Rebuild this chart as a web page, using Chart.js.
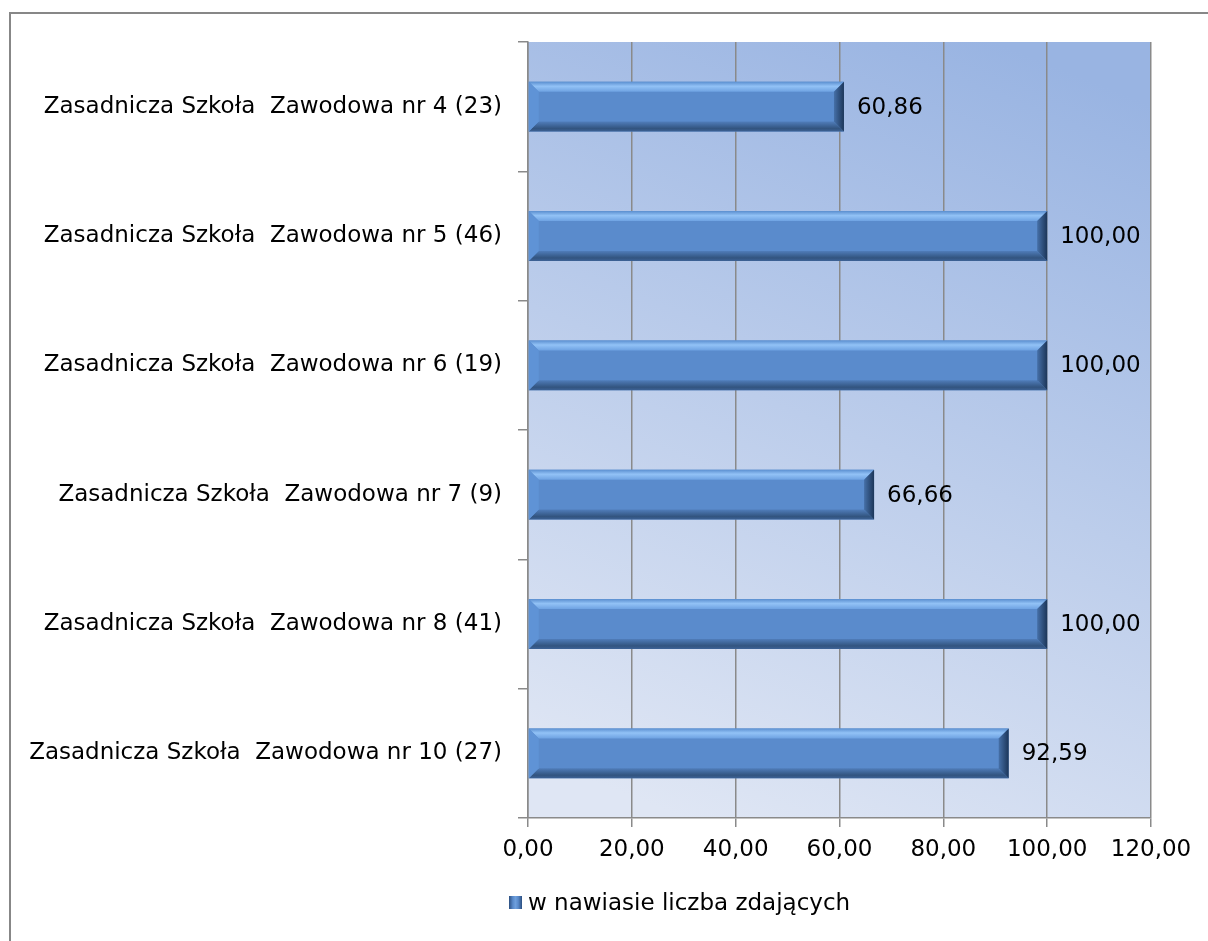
<!DOCTYPE html>
<html>
<head>
<meta charset="utf-8">
<script src="https://cdn.jsdelivr.net/npm/chart.js@4.4.1/dist/chart.umd.min.js"></script>
<style>
  body { margin: 0; background: #fff; }
  #wrap { position: relative; width: 1208px; height: 941px; overflow: hidden; }
  #frame { position: absolute; left: 9px; top: 12px; width: 1230px; height: 960px; border: 2px solid #878787; box-sizing: border-box; }
  #legend { position: absolute; left: 509px; top: 889px; font: 23px "DejaVu Sans", sans-serif; color: #000; display: flex; align-items: center; }
  #legend .box { flex: 0 0 13px; width: 13px; height: 13px; margin-right: 6px;
    background: linear-gradient(90deg, #2c4f80 0, #5a8bcc 30%, #6e9fdc 50%, #5a8bcc 70%, #2c4f80 100%); }
</style>
</head>
<body>
<div id="wrap">
  <canvas id="chart" width="1208" height="941"></canvas>
  <div id="frame"></div>
  <div id="legend"><span class="box"></span>w nawiasie liczba zdających</div>
</div>
<script>
// schools (number of candidates in brackets)
const schools = [
  "Zasadnicza Szkoła  Zawodowa nr 4 (23)",
  "Zasadnicza Szkoła  Zawodowa nr 5 (46)",
  "Zasadnicza Szkoła  Zawodowa nr 6 (19)",
  "Zasadnicza Szkoła  Zawodowa nr 7 (9)",
  "Zasadnicza Szkoła  Zawodowa nr 8 (41)",
  "Zasadnicza Szkoła  Zawodowa nr 10 (27)"
];
const passRates = [60.86, 100.00, 100.00, 66.66, 100.00, 92.59];
const xTicks = [0, 20, 40, 60, 80, 100, 120];

const FONT = "DejaVu Sans";
const fmt = v => v.toFixed(2).replace(".", ",");

// plot area background, dark at the top, light at the bottom
const bgPlugin = {
  id: "plotBg",
  beforeDraw(chart) {
    const { ctx, chartArea: a } = chart;
    const g = ctx.createLinearGradient(a.left + a.width * 0.75, a.top, a.left + a.width * 0.25, a.bottom);
    g.addColorStop(0, "#99b4e2");
    g.addColorStop(1, "#dfe6f4");
    ctx.save();
    ctx.fillStyle = g;
    ctx.fillRect(a.left, a.top, a.width, a.height);
    ctx.restore();
  }
};

// bevel edges on the bars + value labels
const bevelPlugin = {
  id: "bevel",
  afterDatasetsDraw(chart) {
    const ctx = chart.ctx;
    const meta = chart.getDatasetMeta(0);
    meta.data.forEach((bar, i) => {
      const x0 = bar.base, x1 = bar.x;
      const y0 = bar.y - bar.height / 2, y1 = bar.y + bar.height / 2;
      const b = 10;
      ctx.save();
      // top
      let g = ctx.createLinearGradient(0, y0, 0, y0 + b);
      g.addColorStop(0, "#5b8fd0");
      g.addColorStop(0.45, "#92c2f6");
      g.addColorStop(1, "#6ea2e2");
      ctx.fillStyle = g;
      ctx.beginPath();
      ctx.moveTo(x0, y0); ctx.lineTo(x1, y0); ctx.lineTo(x1 - b, y0 + b); ctx.lineTo(x0 + b, y0 + b);
      ctx.closePath(); ctx.fill();
      // bottom
      g = ctx.createLinearGradient(0, y1 - b, 0, y1);
      g.addColorStop(0, "#507dba");
      g.addColorStop(0.7, "#32547f");
      g.addColorStop(1, "#3d6296");
      ctx.fillStyle = g;
      ctx.beginPath();
      ctx.moveTo(x0, y1); ctx.lineTo(x1, y1); ctx.lineTo(x1 - b, y1 - b); ctx.lineTo(x0 + b, y1 - b);
      ctx.closePath(); ctx.fill();
      // left
      ctx.fillStyle = "#5f93d6";
      ctx.beginPath();
      ctx.moveTo(x0, y0); ctx.lineTo(x0 + b, y0 + b); ctx.lineTo(x0 + b, y1 - b); ctx.lineTo(x0, y1);
      ctx.closePath(); ctx.fill();
      // right
      g = ctx.createLinearGradient(x1 - b, 0, x1, 0);
      g.addColorStop(0, "#4670a8");
      g.addColorStop(1, "#1c3659");
      ctx.fillStyle = g;
      ctx.beginPath();
      ctx.moveTo(x1, y0); ctx.lineTo(x1 - b, y0 + b); ctx.lineTo(x1 - b, y1 - b); ctx.lineTo(x1, y1);
      ctx.closePath(); ctx.fill();
      // value label
      ctx.fillStyle = "#000";
      ctx.font = "23px '" + FONT + "'";
      ctx.textAlign = "left";
      ctx.textBaseline = "middle";
      ctx.fillText(fmt(passRates[i]), x1 + 13, bar.y + 1);
      ctx.restore();
    });
  }
};

new Chart(document.getElementById("chart"), {
  type: "bar",
  data: {
    labels: schools,
    datasets: [{
      label: "w nawiasie liczba zdających",
      data: passRates,
      backgroundColor: "#5a8bcc",
      borderWidth: 0,
      barPercentage: 0.385,
      categoryPercentage: 1.0
    }]
  },
  options: {
    indexAxis: "y",
    responsive: false,
    animation: false,
    layout: { padding: { left: 0, top: 42, right: 57, bottom: 63 } },
    plugins: { legend: { display: false }, tooltip: { enabled: false } },
    scales: {
      x: {
        min: 0, max: 120,
        afterBuildTicks: axis => { axis.ticks = xTicks.map(v => ({ value: v })); },
        afterFit: axis => { axis.height = 60; },
        ticks: {
          color: "#000",
          font: { family: FONT, size: 23 },
          padding: 9,
          callback: v => fmt(v)
        },
        grid: { color: "#8a8a8a", lineWidth: 1.5, tickLength: 9 },
        border: { color: "#8a8a8a", width: 1.5 }
      },
      y: {
        afterFit: axis => { axis.width = 528; },
        ticks: {
          color: "#000",
          font: { family: FONT, size: 23 },
          padding: 16
        },
        grid: { drawOnChartArea: false, color: "#8a8a8a", lineWidth: 1.5, tickLength: 10, offset: true },
        border: { color: "#8a8a8a", width: 1.5 }
      }
    }
  },
  plugins: [bgPlugin, bevelPlugin]
});
</script>
</body>
</html>
